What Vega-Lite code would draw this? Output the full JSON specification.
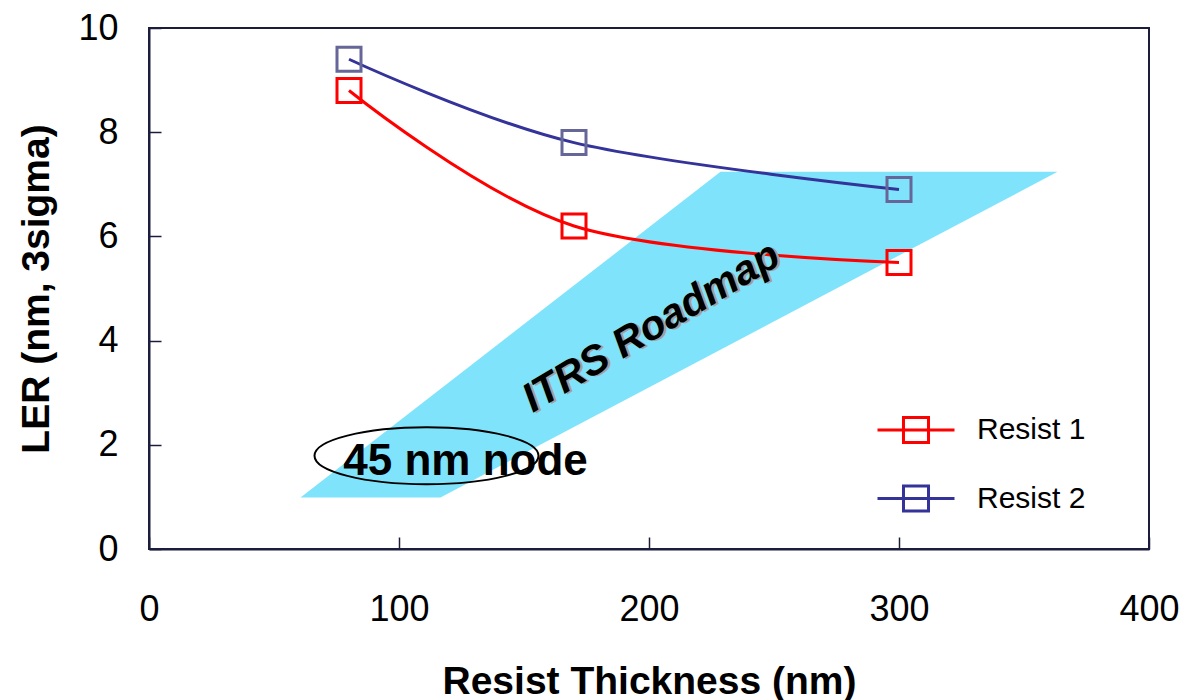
{
  "$schema": "https://vega.github.io/schema/vega-lite/v6.json",
  "width": 1000,
  "height": 521,
  "autosize": {"type": "none"},
  "padding": {"left": 149, "top": 28, "right": 37, "bottom": 151},
  "background": "white",
  "config": {
    "font": "Liberation Sans",
    "view": {"stroke": "#1c1c3c", "strokeWidth": 2},
    "axis": {
      "labelFont": "Liberation Sans",
      "labelFontSize": 36,
      "labelColor": "#000000",
      "labelFlush": false,
      "labelOverlap": false,
      "titleFont": "Liberation Sans",
      "titleFontSize": 39,
      "titleFontWeight": "bold",
      "titleColor": "#000000",
      "domainColor": "#1c1c3c",
      "domainWidth": 2,
      "tickColor": "#1c1c3c",
      "tickWidth": 1.5,
      "tickSize": -12,
      "grid": false
    },
    "axisX": {"labelPadding": 55, "titlePadding": 35},
    "axisY": {"labelPadding": 43, "titlePadding": 21}
  },
  "datasets": {
    "ler": [
      {"thickness": 80, "ler": 8.8, "series": "Resist 1"},
      {"thickness": 170, "ler": 6.2, "series": "Resist 1"},
      {"thickness": 300, "ler": 5.5, "series": "Resist 1"},
      {"thickness": 80, "ler": 9.4, "series": "Resist 2"},
      {"thickness": 170, "ler": 7.8, "series": "Resist 2"},
      {"thickness": 300, "ler": 6.9, "series": "Resist 2"}
    ],
    "band": [
      {"y": 0.99, "xl": 60.6, "xr": 116.6},
      {"y": 7.24, "xl": 228.6, "xr": 363.4}
    ],
    "itrs": [{"x": 201, "y": 4.25, "label": "ITRS Roadmap"}],
    "node": [{"x": 126.6, "y": 1.42, "label": "45 nm node"}],
    "ellipse": [{"x": 111, "y": 1.79}]
  },
  "layer": [
    {
      "data": {"name": "band"},
      "mark": {"type": "area", "orient": "horizontal", "color": "#7fe3fb", "opacity": 1},
      "encoding": {
        "y": {"field": "y", "type": "quantitative", "scale": {"domain": [0, 10]}, "title": "LER (nm, 3sigma)", "axis": {"values": [0, 2, 4, 6, 8, 10]}},
        "x": {"field": "xl", "type": "quantitative", "scale": {"domain": [0, 400]}, "title": "Resist Thickness (nm)", "axis": {"values": [0, 100, 200, 300, 400]}},
        "x2": {"field": "xr"}
      }
    },
    {
      "data": {"name": "node"},
      "mark": {"type": "text", "fontSize": 44, "fontWeight": "bold", "align": "center", "baseline": "alphabetic", "color": "#000000", "font": "Liberation Sans"},
      "encoding": {
        "x": {"field": "x", "type": "quantitative", "title": "Resist Thickness (nm)", "axis": {"values": [0, 100, 200, 300, 400]}},
        "y": {"field": "y", "type": "quantitative", "title": "LER (nm, 3sigma)", "axis": {"values": [0, 2, 4, 6, 8, 10]}},
        "text": {"field": "label"}
      }
    },
    {
      "data": {"name": "ellipse"},
      "mark": {"type": "point", "shape": "M -1 0 C -1 -0.1403 -0.5523 -0.254 0 -0.254 C 0.5523 -0.254 1 -0.1403 1 0 C 1 0.1403 0.5523 0.254 0 0.254 C -0.5523 0.254 -1 0.1403 -1 0 Z", "size": 50176, "filled": false, "stroke": "#000000", "strokeWidth": 2, "opacity": 1},
      "encoding": {
        "x": {"field": "x", "type": "quantitative", "title": "Resist Thickness (nm)", "axis": {"values": [0, 100, 200, 300, 400]}},
        "y": {"field": "y", "type": "quantitative", "title": "LER (nm, 3sigma)", "axis": {"values": [0, 2, 4, 6, 8, 10]}}
      }
    },
    {
      "data": {"name": "ler"},
      "mark": {"type": "line", "interpolate": "cardinal", "strokeWidth": 3},
      "encoding": {
        "x": {"field": "thickness", "type": "quantitative", "title": "Resist Thickness (nm)", "axis": {"values": [0, 100, 200, 300, 400]}},
        "y": {"field": "ler", "type": "quantitative", "title": "LER (nm, 3sigma)", "axis": {"values": [0, 2, 4, 6, 8, 10]}},
        "color": {
          "field": "series",
          "type": "nominal",
          "scale": {"domain": ["Resist 1", "Resist 2"], "range": ["#ff0000", "#333399"]},
          "legend": {
            "orient": "none",
            "legendX": 746,
            "legendY": 381,
            "title": null,
            "padding": 0,
            "symbolType": "M -2 0 H 2 M -0.65 -0.65 H 0.65 V 0.65 H -0.65 Z",
            "symbolSize": 1482,
            "symbolStrokeWidth": 3,
            "symbolFillColor": "transparent",
            "labelFont": "Liberation Sans",
            "labelFontSize": 30,
            "labelColor": "#000000",
            "labelOffset": 40,
            "rowPadding": 28.5,
            "labelLimit": 300,
            "encode": {"symbols": {"update": {"fill": {"value": "transparent"}, "opacity": {"value": 1}}}}
          }
        }
      }
    },
    {
      "data": {"name": "ler"},
      "mark": {"type": "point", "shape": "square", "size": 576, "filled": false, "strokeWidth": 3, "opacity": 1},
      "encoding": {
        "x": {"field": "thickness", "type": "quantitative", "title": "Resist Thickness (nm)", "axis": {"values": [0, 100, 200, 300, 400]}},
        "y": {"field": "ler", "type": "quantitative", "title": "LER (nm, 3sigma)", "axis": {"values": [0, 2, 4, 6, 8, 10]}},
        "stroke": {
          "field": "series",
          "type": "nominal",
          "scale": {"domain": ["Resist 1", "Resist 2"], "range": ["#ff0000", "#666699"]},
          "legend": null
        }
      }
    },
    {
      "data": {"name": "itrs"},
      "mark": {"type": "text", "fontSize": 41, "fontWeight": "bold", "fontStyle": "italic", "align": "center", "baseline": "middle", "angle": 329, "dx": 2, "dy": 2, "color": "#a0a0a0", "font": "Liberation Sans"},
      "encoding": {
        "x": {"field": "x", "type": "quantitative", "title": "Resist Thickness (nm)", "axis": {"values": [0, 100, 200, 300, 400]}},
        "y": {"field": "y", "type": "quantitative", "title": "LER (nm, 3sigma)", "axis": {"values": [0, 2, 4, 6, 8, 10]}},
        "text": {"field": "label"}
      }
    },
    {
      "data": {"name": "itrs"},
      "mark": {"type": "text", "fontSize": 41, "fontWeight": "bold", "fontStyle": "italic", "align": "center", "baseline": "middle", "angle": 329, "color": "#000000", "font": "Liberation Sans"},
      "encoding": {
        "x": {"field": "x", "type": "quantitative", "title": "Resist Thickness (nm)", "axis": {"values": [0, 100, 200, 300, 400]}},
        "y": {"field": "y", "type": "quantitative", "title": "LER (nm, 3sigma)", "axis": {"values": [0, 2, 4, 6, 8, 10]}},
        "text": {"field": "label"}
      }
    }
  ]
}
